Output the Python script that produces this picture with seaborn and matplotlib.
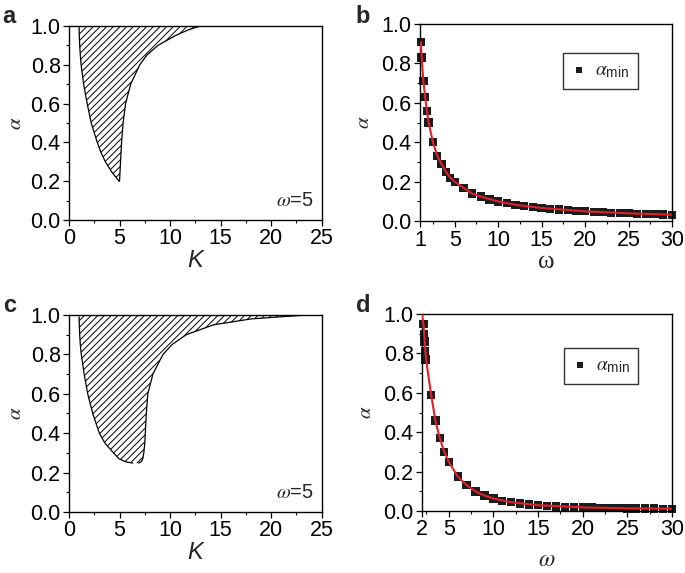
import matplotlib
matplotlib.use("Agg")
import matplotlib.pyplot as plt
import seaborn as sns
import pandas as pd
from matplotlib.ticker import MultipleLocator

# ---------------- data ----------------
# panel a (omega = 5): hatched region boundaries, K as function of alpha
alpha_a = [0.20, 0.25, 0.30, 0.35, 0.40, 0.50, 0.60, 0.70, 0.80, 0.85, 0.90, 0.95, 0.98, 1.00]
k_left_a = [4.95, 4.20, 3.60, 3.15, 2.80, 2.20, 1.80, 1.45, 1.20, 1.12, 1.06, 1.02, 1.00, 1.00]
k_right_a = [5.00, 5.05, 5.10, 5.15, 5.20, 5.35, 5.60, 6.10, 7.00, 7.70, 8.80, 10.50, 11.80, 13.00]

# panel c (omega = 5)
alpha_c = [0.248, 0.255, 0.27, 0.30, 0.35, 0.40, 0.50, 0.60, 0.70, 0.80, 0.85, 0.90, 0.95, 0.98, 1.00]
k_left_c = [6.30, 5.60, 4.95, 4.40, 3.55, 3.00, 2.35, 1.85, 1.50, 1.22, 1.12, 1.06, 1.02, 1.00, 1.00]
k_right_c = [6.90, 7.15, 7.30, 7.40, 7.50, 7.55, 7.65, 7.80, 8.30, 9.30, 10.20, 11.60, 14.30, 18.00, 23.50]

# panel b: alpha_min vs omega
omega_b = [1.1, 1.2, 1.4, 1.6, 1.8, 2.0, 2.5, 3.0, 3.5, 4.0, 4.5, 5, 6, 7, 8, 9, 10, 11, 12, 13, 14,
           15, 16, 17, 18, 19, 20, 21, 22, 23, 24, 25, 26, 27, 28, 29, 30]
amin_b = [0.91, 0.83, 0.71, 0.63, 0.56, 0.50, 0.40, 0.33, 0.29, 0.25, 0.22, 0.20, 0.17, 0.14, 0.125,
          0.11, 0.10, 0.091, 0.083, 0.077, 0.071, 0.067, 0.063, 0.059, 0.056, 0.053, 0.050, 0.048,
          0.045, 0.043, 0.042, 0.040, 0.038, 0.037, 0.036, 0.034, 0.033]
fit_w_b = [1.1, 1.2, 1.4, 1.6, 1.8, 2.0, 2.5, 3.0, 3.5, 4.0, 4.5, 5, 6, 7, 8, 10, 12, 15, 20, 25, 30]
fit_a_b = [0.91, 0.83, 0.71, 0.63, 0.56, 0.50, 0.40, 0.33, 0.29, 0.25, 0.22, 0.20, 0.17, 0.14, 0.125,
           0.10, 0.083, 0.067, 0.050, 0.040, 0.033]

# panel d: alpha_min vs omega
omega_d = [2.18, 2.22, 2.27, 2.32, 2.40, 3.0, 3.5, 4.0, 4.5, 5, 6, 7, 8, 9, 10, 11, 12, 13, 14, 15,
           16, 17, 18, 19, 20, 21, 22, 23, 24, 25, 26, 27, 28, 29, 30]
amin_d = [0.95, 0.90, 0.86, 0.81, 0.77, 0.59, 0.46, 0.37, 0.30, 0.25, 0.175, 0.132, 0.100, 0.079,
          0.064, 0.053, 0.045, 0.039, 0.034, 0.030, 0.027, 0.024, 0.022, 0.020, 0.019, 0.018, 0.017,
          0.016, 0.015, 0.014, 0.014, 0.013, 0.013, 0.012, 0.012]
fit_w_d = [2.0, 2.2, 2.4, 2.7, 3.0, 3.5, 4.0, 4.5, 5, 6, 7, 8, 9, 10, 12, 15, 20, 25, 30]
fit_a_d = [1.00, 0.93, 0.80, 0.69, 0.60, 0.46, 0.37, 0.30, 0.25, 0.175, 0.132, 0.100, 0.079, 0.064,
           0.045, 0.030, 0.019, 0.014, 0.012]

# ---------------- style ----------------
sns.set_theme(style="ticks")
plt.rcParams["font.family"] = ["Liberation Sans", "DejaVu Sans"]
plt.rcParams["mathtext.fontset"] = "custom"
plt.rcParams["mathtext.it"] = "STIXGeneral:italic"
plt.rcParams["mathtext.rm"] = "Liberation Sans"
plt.rcParams["mathtext.sf"] = "Liberation Sans"
plt.rcParams["mathtext.bf"] = "Liberation Sans:bold"
plt.rcParams["hatch.linewidth"] = 0.7
plt.rcParams["axes.linewidth"] = 1.0
plt.rcParams["axes.edgecolor"] = "black"

TICK_FS = 15.5

fig = plt.figure(figsize=(6.85, 5.73), dpi=100)
ax_a = fig.add_axes([0.1007, 0.616, 0.369, 0.3386])
ax_b = fig.add_axes([0.613, 0.614, 0.368, 0.344])
ax_c = fig.add_axes([0.1007, 0.1065, 0.369, 0.3438])
ax_d = fig.add_axes([0.616, 0.108, 0.365, 0.344])


def style_axes(ax):
    for s in ax.spines.values():
        s.set_visible(True)
        s.set_color("black")
        s.set_linewidth(1.0)
    ax.set_ylim(0, 1.0)
    ax.yaxis.set_major_locator(MultipleLocator(0.2))
    ax.yaxis.set_minor_locator(MultipleLocator(0.1))
    ax.tick_params(which="major", direction="out", length=4, width=0.9, labelsize=TICK_FS,
                   colors="black", pad=2)
    ax.tick_params(which="minor", direction="out", length=2.5, width=0.8, colors="black")
    ax.set_yticks([0.0, 0.2, 0.4, 0.6, 0.8, 1.0])
    ax.set_yticklabels(["0.0", "0.2", "0.4", "0.6", "0.8", "1.0"])


def region_panel(ax, alpha, kl, kr):
    ax.fill_betweenx(alpha, kl, kr, facecolor="white", edgecolor="black", hatch="/////",
                     linewidth=0)
    df_l = pd.DataFrame({"K": kl, "a": alpha})
    df_r = pd.DataFrame({"K": kr, "a": alpha})
    sns.lineplot(data=df_l, x="K", y="a", sort=False, color="black", lw=0.9, ax=ax)
    sns.lineplot(data=df_r, x="K", y="a", sort=False, color="black", lw=0.9, ax=ax)
    style_axes(ax)
    ax.set_xlim(0, 25)
    ax.set_xticks([0, 5, 10, 15, 20, 25])
    ax.xaxis.set_minor_locator(MultipleLocator(2.5))
    ax.set_xlabel("K", fontsize=17, style="italic", labelpad=0)
    ax.set_ylabel(r"$\alpha$", fontsize=15, labelpad=4)
    ax.text(0.97, 0.05, r"$\omega$=5", transform=ax.transAxes, ha="right", va="bottom",
            fontsize=14.5)


def amin_panel(ax, w, a, fw, fa, xmin, xticks, legend_anchor, italic):
    sns.scatterplot(x=w, y=a, marker="s", s=36, color="#1c1c1c", edgecolor="none",
                    ax=ax, label=r"$\alpha_{\rm min}$", zorder=2, clip_on=False)
    sns.lineplot(x=fw, y=fa, color="#e0202a", lw=1.5, ax=ax, zorder=3, sort=False)
    style_axes(ax)
    ax.set_xlim(xmin, 30)
    ax.set_xticks(xticks)
    ax.xaxis.set_minor_locator(MultipleLocator(2.5))
    if italic:
        ax.set_xlabel(r"$\omega$", fontsize=17, labelpad=6)
    else:
        ax.set_xlabel("ω", fontsize=18, family=["Liberation Serif", "DejaVu Serif"], labelpad=0)
    ax.set_ylabel(r"$\alpha$", fontsize=15, labelpad=6)
    leg = ax.legend(loc="upper left", bbox_to_anchor=legend_anchor, frameon=True, fancybox=False,
                    edgecolor="black", fontsize=14, handletextpad=0.4, borderpad=0.45,
                    handlelength=0.8, markerscale=0.75, borderaxespad=0)
    leg.get_frame().set_linewidth(1.0)
    leg.get_frame().set_facecolor("white")


region_panel(ax_a, alpha_a, k_left_a, k_right_a)
region_panel(ax_c, alpha_c, k_left_c, k_right_c)
amin_panel(ax_b, omega_b, amin_b, fit_w_b, fit_a_b, 1, [1, 5, 10, 15, 20, 25, 30],
           (0.567, 0.853), False)
amin_panel(ax_d, omega_d, amin_d, fit_w_d, fit_a_d, 2, [2, 5, 10, 15, 20, 25, 30],
           (0.567, 0.827), True)

for txt, x, y in [("a", 0.004, 0.959), ("b", 0.519, 0.959), ("c", 0.004, 0.456), ("d", 0.519, 0.456)]:
    fig.text(x, y, txt, fontsize=17, fontweight="bold", ha="left", va="baseline")

fig.savefig("out.png", dpi=100)
